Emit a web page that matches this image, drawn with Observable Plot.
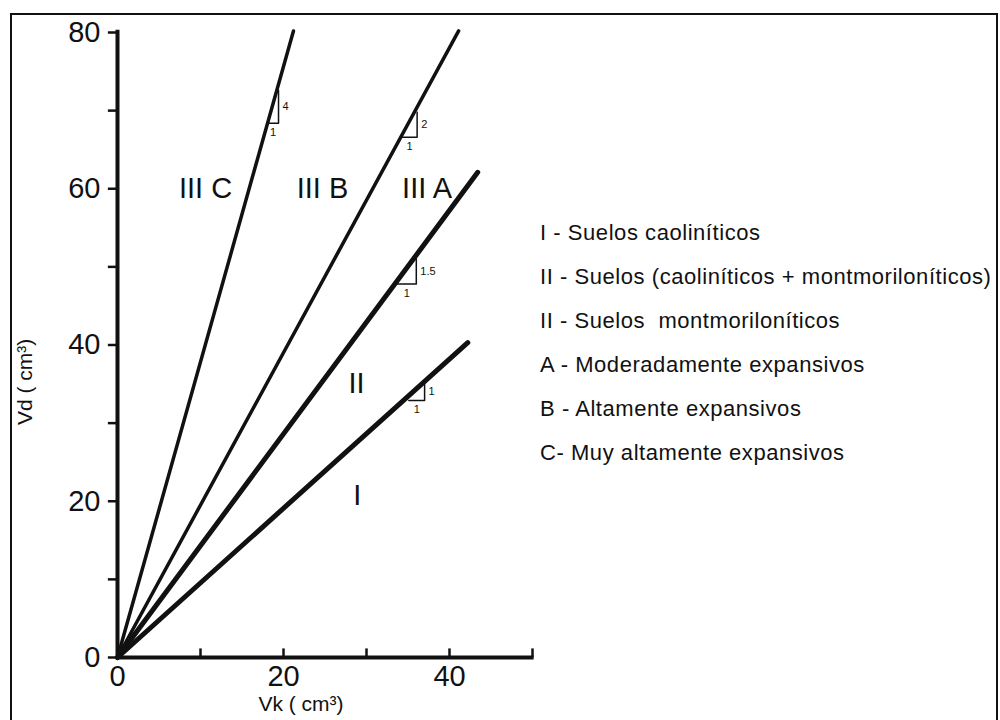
<!DOCTYPE html>
<html>
<head>
<meta charset="utf-8">
<script src="https://cdn.jsdelivr.net/npm/d3@7"></script>
<script src="https://cdn.jsdelivr.net/npm/@observablehq/plot@0.6"></script>
<style>
  html, body { margin: 0; padding: 0; background: #fff; }
  #wrap { position: relative; width: 1000px; height: 720px; overflow: hidden; font-family: "Liberation Sans", Arial, sans-serif; }
  #legend { position: absolute; left: 540px; top: 211px; font-size: 22px; letter-spacing: 0.55px; line-height: 44px; color: #111; white-space: pre; }
  #frame { position: absolute; left: 10px; top: 13px; width: 988px; height: 760px; border: 2px solid #111; box-sizing: border-box; pointer-events: none; }
</style>
</head>
<body>
<div id="wrap">
  <div id="chart"></div>
  <div id="legend"></div>
  <div id="frame"></div>
</div>
<script>
// ---- data ----
const lineSlopeNames = ["1", "1.5", "2", "4"];
const lineEndX = [42.2, 43.4, 41.1, 21.2];
const lineEndY = [40.3, 62.1, 80.2, 80.2];
const lineWidths = [5, 5, 3.5, 3.5];

const triX0 = [35.1, 33.7, 34.3, 18.1];
const triX1 = [37.0, 36.0, 36.1, 19.4];
const triYBase = [32.9, 47.8, 66.6, 68.4];
const triYTop = [35.1, 51.0, 69.8, 72.6];
const triRunLabel = ["1", "1", "1", "1"];

const regionNames = ["III C", "III B", "III A", "II", "I"];
const regionX = [10.6, 24.7, 37.3, 28.8, 28.9];
const regionY = [60.0, 60.0, 60.0, 35.1, 20.7];

const xTicks = [0, 10, 20, 30, 40, 50];
const xTickLabels = [0, 20, 40];
const yTicks = [0, 10, 20, 30, 40, 50, 60, 70, 80];
const yTickLabels = [0, 20, 40, 60, 80];

const xTitle = "Vk ( cm³)";
const yTitle = "Vd ( cm³)";

const legendItems = [
  "I - Suelos caoliníticos",
  "II - Suelos (caoliníticos + montmoriloníticos)",
  "II - Suelos  montmoriloníticos",
  "A - Moderadamente expansivos",
  "B - Altamente expansivos",
  "C- Muy altamente expansivos"
];

// ---- tables ----
const lines = lineSlopeNames.map((n, i) => ({name: n, x2: lineEndX[i], y2: lineEndY[i], w: lineWidths[i]}));
const triPts = [];
lineSlopeNames.forEach((n, i) => {
  triPts.push({id: i, x: triX0[i], y: triYBase[i]});
  triPts.push({id: i, x: triX1[i], y: triYBase[i]});
  triPts.push({id: i, x: triX1[i], y: triYTop[i]});
});
const tris = lineSlopeNames.map((n, i) => ({rise: n, run: triRunLabel[i], x0: triX0[i], x1: triX1[i], yb: triYBase[i], yt: triYTop[i]}));
const regions = regionNames.map((n, i) => ({name: n, x: regionX[i], y: regionY[i]}));

const ink = "#111";

const chart = Plot.plot({
  width: 1000,
  height: 720,
  marginLeft: 117,
  marginRight: 468,
  marginTop: 32,
  marginBottom: 63,
  x: {domain: [0, 50], axis: null},
  y: {domain: [0, 80], axis: null},
  style: {fontFamily: "'Liberation Sans', Arial, sans-serif", background: "transparent", color: ink},
  marks: [
    // axis lines
    Plot.ruleX([0], {y1: 0, y2: 80.3, stroke: ink, strokeWidth: 4}),
    Plot.ruleY([0], {x1: 0, x2: 50.2, stroke: ink, strokeWidth: 4}),
    // ticks
    Plot.ruleX(xTicks, {x: d => d, y1: 0, y2: 1.1, stroke: ink, strokeWidth: 2.5}),
    Plot.ruleY(yTicks, {y: d => d, x1: -1.1, x2: 0, stroke: ink, strokeWidth: 2.5}),
    // tick labels
    Plot.text(xTickLabels, {x: d => d, y: 0, dy: 19, text: d => String(d), fontSize: 29, fill: ink}),
    Plot.text(yTickLabels, {x: 0, y: d => d, dx: -17, text: d => String(d), textAnchor: "end", fontSize: 29, fill: ink}),
    // axis titles
    Plot.text([xTitle], {frameAnchor: "bottom", dx: -24, dy: 53, fontSize: 21, fill: ink}),
    Plot.text([yTitle], {frameAnchor: "left", dx: -92, dy: 80, rotate: -90, fontSize: 21, fill: ink}),
    // lines from origin
    Plot.link(lines, {x1: 0, y1: 0, x2: "x2", y2: "y2", stroke: ink, strokeWidth: "w", strokeLinecap: "round"}),
    // slope triangles
    Plot.line(triPts, {x: "x", y: "y", z: "id", stroke: ink, strokeWidth: 1.5}),
    Plot.text(tris, {x: "x1", y: d => (d.yb + d.yt) / 2, text: "rise", dx: 4, textAnchor: "start", fontSize: 11, fill: ink}),
    Plot.text(tris, {x: d => (d.x0 + d.x1) / 2, y: "yb", text: "run", dy: 9, fontSize: 11, fill: ink}),
    // region labels
    Plot.text(regions, {x: "x", y: "y", text: "name", fontSize: 29, fill: ink})
  ]
});

document.getElementById("chart").appendChild(chart);
document.getElementById("legend").textContent = legendItems.join("\n");
</script>
</body>
</html>
